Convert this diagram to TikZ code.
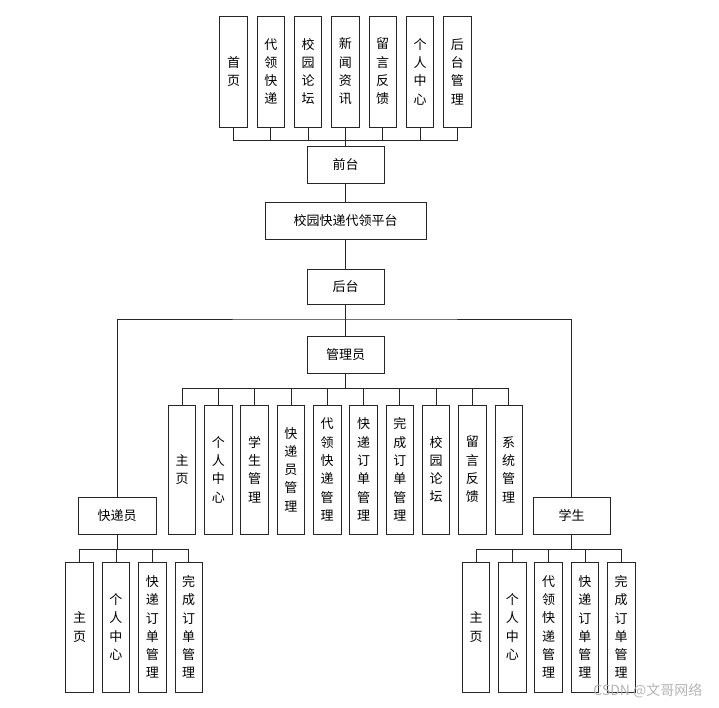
\documentclass[tikz,border=0pt]{standalone}
\usepackage{fontspec}
\setmainfont{Noto Sans CJK SC}
\usepackage{tikz}
\usetikzlibrary{positioning}
\definecolor{boxInk}{HTML}{262626}
\definecolor{markGray}{HTML}{B4B4B4}

\tikzset{
  hbox/.style={draw=boxInk, line width=0.9pt, minimum height=37, inner sep=0pt,
    font=\fontsize{13}{16}\selectfont},
  vbox/.style={draw=boxInk, line width=0.9pt, minimum width=27.5, inner sep=0pt,
    align=center, font=\fontsize{13}{18.3}\selectfont},
  link/.style={draw=boxInk, line width=0.8pt}
}

\begin{document}
\begin{tikzpicture}[x=1pt, y=-1pt, line cap=rect, line join=miter]
  \useasboundingbox (0,0) rectangle (719,708);
  % Front end
  \foreach \txt [count=\i] in {{首\\页}, {代\\领\\快\\递}, {校\\园\\论\\坛},
      {新\\闻\\资\\讯}, {留\\言\\反\\馈}, {个\\人\\中\\心}, {后\\台\\管\\理}}
    \node[vbox, minimum height=111] (t\i) at ({233.5+37.3*(\i-1)},71.5) {\txt};
  \node[hbox, minimum width=77] (qiantai) at (345.5,165) {前台};
  \coordinate (topbus) at (345.5,140);
  \foreach \i in {1,...,7}
    \draw[link] (t\i.south) |- (topbus);
  \draw[link] (topbus) -- (qiantai.north);
  % Platform
  \node[hbox, minimum width=161] (pingtai) at (345.5,220.5) {校园快递代领平台};
  \node[hbox, minimum width=77, minimum height=35] (houtai) at (345.5,286.5) {后台};
  \draw[link] (qiantai.south) -- (pingtai.north);
  \draw[link] (pingtai.south) -- (houtai.north);
  % Back end roles
  \node[hbox, minimum width=77] (guanli) at (345.5,355) {管理员};
  \node[hbox, minimum width=78] (kuaidi) at (117,515.5) {快递员};
  \node[hbox, minimum width=77] (xuesheng) at (571.5,515.5) {学生};
  \coordinate (backbus) at (345.5,319);
  \draw[link] (houtai.south) -- (guanli.north);
  \draw[link] (kuaidi.north) |- (backbus) -| (xuesheng.north);
  % Admin modules
  \foreach \txt [count=\i] in {{主\\页}, {个\\人\\中\\心}, {学\\生\\管\\理},
      {快\\递\\员\\管\\理}, {代\\领\\快\\递\\管\\理}, {快\\递\\订\\单\\管\\理},
      {完\\成\\订\\单\\管\\理}, {校\\园\\论\\坛}, {留\\言\\反\\馈}, {系\\统\\管\\理}}
    \node[vbox, minimum height=129] (a\i) at ({182+36.3*(\i-1)},469.5) {\txt};
  \coordinate (adminbus) at (345.5,388);
  \draw[link] (guanli.south) -- (adminbus);
  \foreach \i in {1,...,10}
    \draw[link] (adminbus) -| (a\i.north);
  % Courier modules
  \foreach \txt [count=\i] in {{主\\页}, {个\\人\\中\\心},
      {快\\递\\订\\单\\管\\理}, {完\\成\\订\\单\\管\\理}}
    \node[vbox, minimum height=130] (k\i) at ({79.5+36.4*(\i-1)},627) {\txt};
  \coordinate (kdbus) at (117,549);
  \draw[link] (kuaidi.south) -- (kdbus);
  \foreach \i in {1,...,4}
    \draw[link] (kdbus) -| (k\i.north);
  % Student modules
  \foreach \txt [count=\i] in {{主\\页}, {个\\人\\中\\心}, {代\\领\\快\\递\\管\\理},
      {快\\递\\订\\单\\管\\理}, {完\\成\\订\\单\\管\\理}}
    \node[vbox, minimum height=130] (s\i) at ({476+36.3*(\i-1)},627) {\txt};
  \coordinate (xsbus) at (571.5,549);
  \draw[link] (xuesheng.south) -- (xsbus);
  \foreach \i in {1,...,5}
    \draw[link] (xsbus) -| (s\i.north);
  % Watermark
  \node[font=\fontsize{14}{14}\selectfont, text=markGray, anchor=east] (mark)
    at (706,691) {CSDN @文哥网络};
\end{tikzpicture}
\end{document}
